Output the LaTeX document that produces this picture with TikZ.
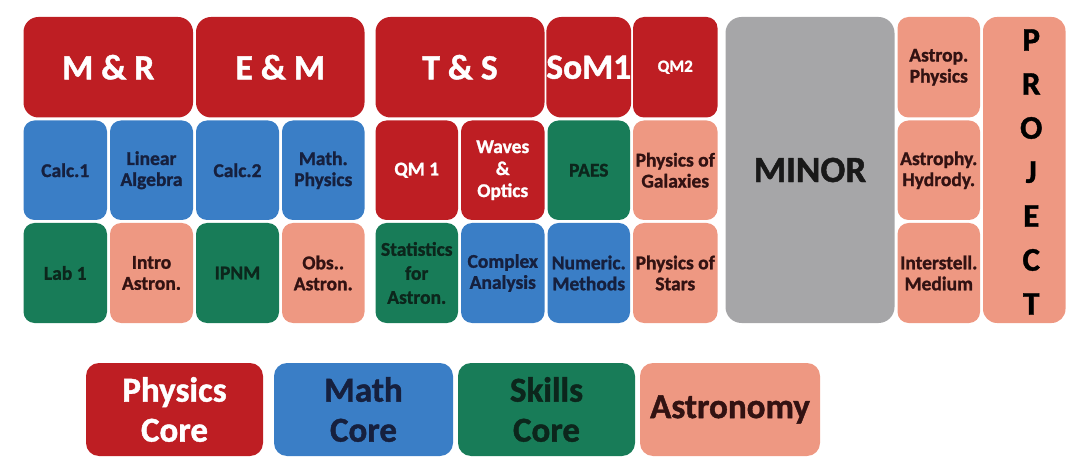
\documentclass[tikz,border=0pt]{standalone}
\usepackage{fontspec}
\setmainfont{Carlito}[BoldFeatures={FakeBold=1.2}]
\definecolor{physred}{RGB}{190,30,35}
\definecolor{mathblue}{RGB}{58,126,198}
\definecolor{skillgreen}{RGB}{24,124,88}
\definecolor{astrosalmon}{RGB}{238,152,130}
\definecolor{minorgray}{RGB}{166,166,168}
\definecolor{navytext}{RGB}{22,32,62}
\definecolor{greentext}{RGB}{12,38,28}
\definecolor{salmontext}{RGB}{50,18,18}
\tikzset{
  cell/.style={rectangle, rounded corners=11pt, inner sep=0pt, align=center,
    font=\bfseries\fontsize{19.5}{21}\selectfont},
  phys/.style={cell, fill=physred, text=white},
  math/.style={cell, fill=mathblue, text=navytext},
  skill/.style={cell, fill=skillgreen, text=greentext},
  astro/.style={cell, fill=astrosalmon, text=salmontext},
  minor/.style={cell, fill=minorgray, text=black!90, rounded corners=16pt,
    font=\bfseries\fontsize{37}{40}\selectfont},
  big/.style={font=\bfseries\fontsize{35.5}{40}\selectfont, rounded corners=15pt},
  legend/.style={rounded corners=13pt, font=\bfseries\fontsize{35}{40}\selectfont},
}
% cell from corner (x1,y1) to (x2,y2), with a 1.5pt gap on every side
\newcommand\cellbox[7]{%
  \node[#6, minimum width={#4-#2-3}, minimum height={#5-#3-3}]
    (#1) at ({(#2+#4)/2},{(#3+#5)/2}) {#7};}
\begin{document}
\begin{tikzpicture}[x=1pt,y=-1pt]
\useasboundingbox (0,0) rectangle (1068,462);
% first block of courses
\cellbox{mr}{22}{15.5}{194.5}{119}{phys,big}{M \& R}
\cellbox{em}{194.5}{15.5}{366}{119}{phys,big}{E \& M}
\cellbox{calca}{22}{119}{108.5}{221.5}{math}{Calc.1}
\cellbox{linalg}{108.5}{119}{194.5}{221.5}{math}{Linear\\Algebra}
\cellbox{calcb}{194.5}{119}{280.5}{221.5}{math}{Calc.2}
\cellbox{mathphys}{280.5}{119}{366}{221.5}{math}{Math.\\Physics}
\cellbox{laba}{22}{221.5}{108.5}{324.5}{skill}{Lab 1}
\cellbox{introastro}{108.5}{221.5}{194.5}{324.5}{astro}{Intro\\Astron.}
\cellbox{ipnm}{194.5}{221.5}{280.5}{324.5}{skill}{IPNM}
\cellbox{obsastro}{280.5}{221.5}{366}{324.5}{astro}{Obs..\\Astron.}
% second block of courses
\cellbox{ts}{374}{15.5}{546}{119}{phys,big}{T \& S}
\cellbox{soma}{546}{15.5}{631.5}{119}{phys,big}{SoM1}
\cellbox{qmb}{631.5}{15.5}{719}{119}{phys,font=\bfseries\fontsize{17}{18}\selectfont}{QM2}
\cellbox{qma}{374}{119}{459.5}{221.5}{phys}{QM 1}
\cellbox{waves}{459.5}{119}{546}{221.5}{phys,font=\bfseries\fontsize{19.5}{22}\selectfont}{Waves\\\&\\Optics}
\cellbox{paes}{546}{119}{631.5}{221.5}{skill}{PAES}
\cellbox{galaxies}{631.5}{119}{719}{221.5}{astro}{Physics of\\Galaxies}
\cellbox{stats}{374}{221.5}{459.5}{324.5}{skill,font=\bfseries\fontsize{19.5}{24}\selectfont}{Statistics\\for\\Astron.}
\cellbox{complex}{459.5}{221.5}{546}{324.5}{math}{Complex\\Analysis}
\cellbox{numeric}{546}{221.5}{631.5}{324.5}{math}{Numeric.\\Methods}
\cellbox{stars}{631.5}{221.5}{719}{324.5}{astro}{Physics of\\Stars}
% minor, electives and project
\cellbox{minor}{724}{15.5}{896}{324.5}{minor}{MINOR}
\cellbox{astrophys}{896}{15.5}{981.5}{119}{astro}{Astrop.\\Physics}
\cellbox{hydro}{896}{119}{981.5}{221.5}{astro}{Astrophy.\\Hydrody.}
\cellbox{ism}{896}{221.5}{981.5}{324.5}{astro}{Interstell.\\Medium}
\cellbox{project}{981.5}{15.5}{1067}{324.5}{astro,rounded corners=14pt}{}
\node[align=center, text=black, font=\bfseries\fontsize{33}{44}\selectfont]
  (projlabel) at ([xshift=7pt,yshift=-2pt]project.center) {P\\R\\O\\J\\E\\C\\T};
% legend
\cellbox{lphys}{84.5}{361.5}{264.5}{457.5}{phys,legend}{Physics\\Core}
\cellbox{lmath}{272.5}{361.5}{454.5}{457.5}{math,legend}{Math\\Core}
\cellbox{lskill}{456.5}{361.5}{636.5}{457.5}{skill,legend}{Skills\\Core}
\cellbox{lastro}{638.5}{361.5}{821.5}{457.5}{astro,legend}{Astronomy}
\end{tikzpicture}
\end{document}
